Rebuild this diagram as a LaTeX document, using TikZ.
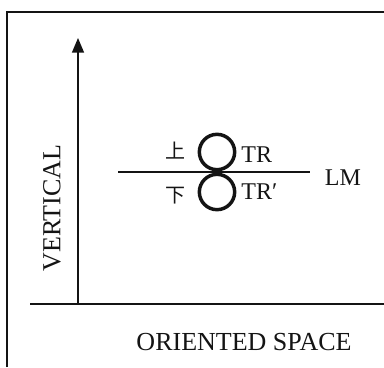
\documentclass[tikz,border=0pt]{standalone}
\usepackage{fontspec}
\setmainfont{Liberation Serif}
\newfontfamily\cjkfont{Noto Sans CJK SC}
\usetikzlibrary{arrows.meta, positioning}
\definecolor{figink}{RGB}{20,20,20}
\tikzstyle{axislabel} = [inner sep=0pt, text=figink, font=\fontsize{19.5}{22}\selectfont]
\tikzstyle{tag} = [inner sep=0pt, text=figink, font=\fontsize{18}{21}\selectfont]
\tikzstyle{cjktag} = [inner sep=0pt, text=figink, font=\cjkfont\fontsize{15}{17}\selectfont]
\tikzstyle{ring} = [circle, draw=figink, line width=2.6pt, minimum size=26.5pt, inner sep=0pt]
\tikzstyle{arrow} = [-{Triangle[length=11pt, width=9pt]}, line width=1.1pt, draw=figink]

\begin{document}
\begin{tikzpicture}[x=0.75pt, y=-0.75pt]
    \useasboundingbox (0,0) rectangle (384,367);
    \draw[figink, line width=0.8pt] (7,367) -- (7,12) -- (384,12);

    \coordinate (origin) at (78,303);
    \coordinate (vtop)   at (78,38);
    \coordinate (xstart) at (30,304);
    \coordinate (xend)   at (384,304);
    \coordinate (lmL)    at (118,172);
    \coordinate (lmR)    at (310,172);

    \node (upper) [ring] at (217,152) {};
    \node (lower) [ring] at (217,192) {};

    \node (up)    [cjktag, left=9pt of upper, yshift=1pt]   {上};
    \node (down)  [cjktag, left=9pt of lower, yshift=-3pt]  {下};
    \node (tr)    [tag, right=3.5pt of upper, yshift=-2pt]   {TR};
    \node (trp)   [tag, right=3.5pt of lower]                {TR′};
    \node (lm)    [tag, right=11pt of lmR, yshift=-4pt]      {LM};

    \node (vlabel) [axislabel, rotate=90] at (52,208)  {VERTICAL};
    \node (hlabel) [axislabel]            at (244,342) {ORIENTED SPACE};

    \draw[arrow] (origin) -- (vtop);
    \draw[figink, line width=1.1pt] (xstart) -- (xend);
    \draw[figink, line width=1.7pt] (lmL) -- (lmR);
\end{tikzpicture}
\end{document}
